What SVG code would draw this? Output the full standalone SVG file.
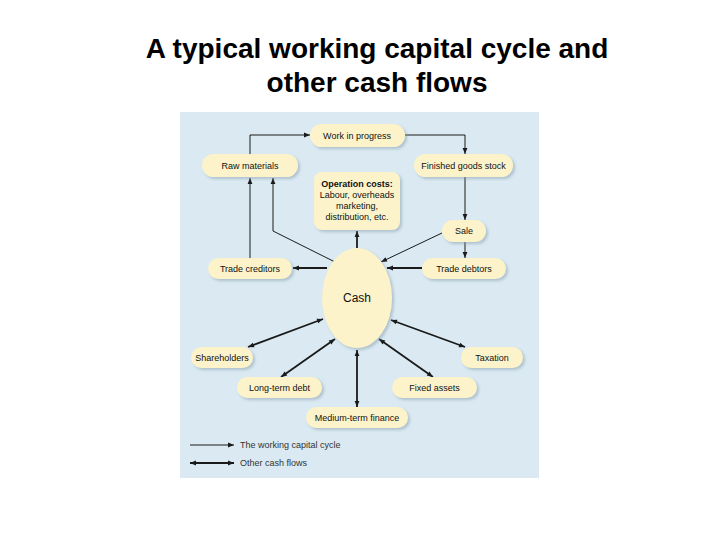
<svg xmlns="http://www.w3.org/2000/svg" width="720" height="540" viewBox="0 0 720 540">
<defs>
<style>
.title{font-family:"Liberation Sans",Arial,sans-serif;font-weight:bold;font-size:28px;fill:#000;text-anchor:middle}
.node{fill:#fcf3cb}
.lbl{font-family:"Liberation Sans",Arial,sans-serif;font-size:9px;fill:#111;text-anchor:middle}
.cash{font-family:"Liberation Sans",Arial,sans-serif;font-size:12px;fill:#111;text-anchor:middle}
.leg{font-family:"Liberation Sans",Arial,sans-serif;font-size:9px;fill:#333}
.thin{stroke:#1a1a1a;stroke-width:1;fill:none}
.thick{stroke:#1a1a1a;stroke-width:1.8;fill:none}
</style>
<filter id="sh" x="-20%" y="-30%" width="150%" height="180%">
<feDropShadow dx="2" dy="2" stdDeviation="1.5" flood-color="#7f98a8" flood-opacity="0.5"/>
</filter>
<marker id="a" viewBox="0 0 10 10" refX="10" refY="5" markerWidth="7" markerHeight="6" markerUnits="userSpaceOnUse" orient="auto">
<path d="M0,1 L10,5 L0,9 Z" fill="#1a1a1a"/>
</marker>
<marker id="as" viewBox="0 0 10 10" refX="0" refY="5" markerWidth="7" markerHeight="6" markerUnits="userSpaceOnUse" orient="auto">
<path d="M10,1 L0,5 L10,9 Z" fill="#1a1a1a"/>
</marker>
</defs>
<rect width="720" height="540" fill="#fff"/>
<text class="title" x="377" y="58">A typical working capital cycle and</text>
<text class="title" x="377" y="92">other cash flows</text>
<rect id="panel" x="180" y="112" width="359" height="366" fill="#dbeaf2"/>

<g id="connectors">
<path class="thin" d="M250,154 V135 H310" marker-end="url(#a)"/>
<path class="thin" d="M405,135 H465 V154" marker-end="url(#a)"/>
<path class="thin" d="M465,177 V220" marker-end="url(#a)"/>
<path class="thin" d="M465,242 V258" marker-end="url(#a)"/>
<path class="thin" d="M442,233 L381,262" marker-end="url(#a)"/>
<path class="thick" d="M422,268 L387,268" marker-end="url(#a)"/>
<path class="thick" d="M327,268 L293,268" marker-end="url(#a)"/>
<path class="thin" d="M250,258 V178" marker-end="url(#a)"/>
<path class="thin" d="M335,262 L273,231 V178" marker-end="url(#a)"/>
<path class="thick" d="M357,248 V231" marker-end="url(#a)"/>
<path class="thick" d="M323,319 L248,347" marker-start="url(#as)" marker-end="url(#a)"/>
<path class="thick" d="M335,339 L281,377" marker-start="url(#as)" marker-end="url(#a)"/>
<path class="thick" d="M357,350 V407" marker-start="url(#as)" marker-end="url(#a)"/>
<path class="thick" d="M379,339 L433,377" marker-start="url(#as)" marker-end="url(#a)"/>
<path class="thick" d="M391,320 L465,347" marker-start="url(#as)" marker-end="url(#a)"/>
</g>

<g id="work-in-progress"><rect class="node" filter="url(#sh)" x="310" y="124" width="95" height="23" rx="11.5"/><text class="lbl" x="357" y="138.5">Work in progress</text></g>
<g id="raw-materials"><rect class="node" filter="url(#sh)" x="202" y="154" width="96" height="23" rx="11.5"/><text class="lbl" x="250" y="168.5">Raw materials</text></g>
<g id="finished-goods"><rect class="node" filter="url(#sh)" x="414" y="154" width="99" height="23" rx="11.5"/><text class="lbl" x="463.5" y="168.5">Finished goods stock</text></g>
<g id="operation-costs"><rect class="node" filter="url(#sh)" x="314" y="172" width="86" height="58" rx="8"/>
<text class="lbl" x="357" y="187" font-weight="bold">Operation costs:</text>
<text class="lbl" x="357" y="198">Labour, overheads</text>
<text class="lbl" x="357" y="209">marketing,</text>
<text class="lbl" x="357" y="220">distribution, etc.</text></g>
<g id="sale"><rect class="node" filter="url(#sh)" x="442" y="220" width="44" height="22" rx="11"/><text class="lbl" x="464" y="234">Sale</text></g>
<g id="trade-creditors"><rect class="node" filter="url(#sh)" x="208" y="258" width="84" height="21" rx="10.5"/><text class="lbl" x="250" y="271.5">Trade creditors</text></g>
<g id="trade-debtors"><rect class="node" filter="url(#sh)" x="422" y="258" width="84" height="21" rx="10.5"/><text class="lbl" x="464" y="271.5">Trade debtors</text></g>
<g id="cash"><ellipse class="node" filter="url(#sh)" cx="357" cy="298" rx="35" ry="50"/><text class="cash" x="357" y="302">Cash</text></g>
<g id="shareholders"><rect class="node" filter="url(#sh)" x="191" y="347" width="62" height="21" rx="10.5"/><text class="lbl" x="222" y="360.5">Shareholders</text></g>
<g id="taxation"><rect class="node" filter="url(#sh)" x="461" y="347" width="62" height="21" rx="10.5"/><text class="lbl" x="492" y="360.5">Taxation</text></g>
<g id="long-term-debt"><rect class="node" filter="url(#sh)" x="237" y="377" width="85" height="21" rx="10.5"/><text class="lbl" x="279.5" y="390.5">Long-term debt</text></g>
<g id="fixed-assets"><rect class="node" filter="url(#sh)" x="392" y="377" width="85" height="21" rx="10.5"/><text class="lbl" x="434.5" y="390.5">Fixed assets</text></g>
<g id="medium-term-finance"><rect class="node" filter="url(#sh)" x="306" y="407" width="102" height="21" rx="10.5"/><text class="lbl" x="357" y="420.5">Medium-term finance</text></g>

<g id="legend">
<path class="thin" d="M190,445 H234" marker-end="url(#a)"/>
<text class="leg" x="240" y="448">The working capital cycle</text>
<path class="thick" d="M190,463 H234" marker-start="url(#as)" marker-end="url(#a)"/>
<text class="leg" x="240" y="466">Other cash flows</text>
</g>
</svg>
